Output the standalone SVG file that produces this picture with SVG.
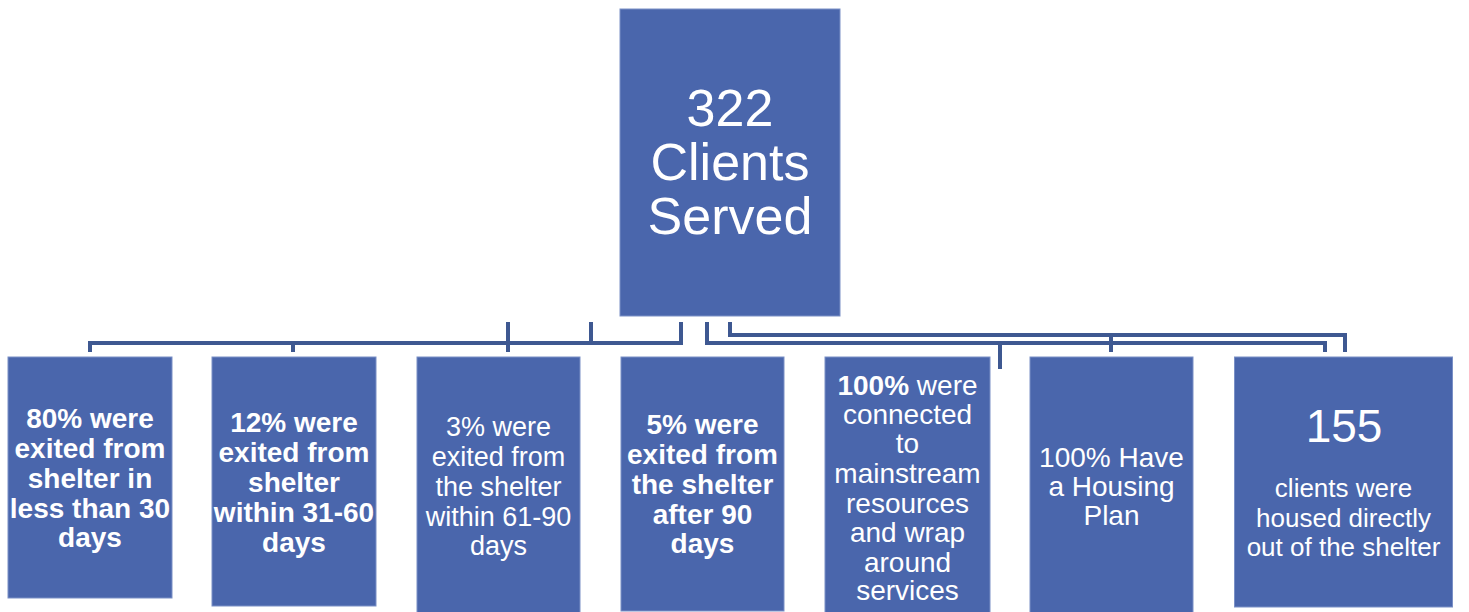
<svg xmlns="http://www.w3.org/2000/svg" width="1469" height="612" viewBox="0 0 1469 612">
<style>
.box{fill:#4A66AC;stroke:#7A90C6;stroke-width:1}
.t{font-family:"Liberation Sans",Arial,sans-serif;fill:#FFFFFF;text-anchor:middle}
.b{font-weight:bold;font-size:28px}
.r{font-size:28px}
.c{fill:none;stroke:#3E5891;stroke-width:4;stroke-linejoin:miter}
</style>
<rect width="1469" height="612" fill="#FFFFFF"/>
<g id="connectors">
<path class="c" d="M681,322 V343 H90 V352"/>
<path class="c" d="M293,343 V352"/>
<path class="c" d="M508,322 V352"/>
<path class="c" d="M591,322 V343"/>
<path class="c" d="M707,322 V343 H1325 V352"/>
<path class="c" d="M1000,343 V369"/>
<path class="c" d="M730,322 V335 H1345 V352"/>
<path class="c" d="M1111,335 V352"/>
</g>
<g id="root">
<rect class="box" x="620" y="9" width="220" height="307"/>
<text class="t" font-size="52" x="730"><tspan x="730" y="126">322</tspan><tspan x="730" y="180">Clients</tspan><tspan x="730" y="234">Served</tspan></text>
</g>
<g id="n1">
<rect class="box" x="8" y="357" width="164" height="241"/>
<text class="t b"><tspan x="90" y="428">80% were</tspan><tspan x="90" y="458">exited from</tspan><tspan x="90" y="488">shelter in</tspan><tspan x="90" y="518">less than 30</tspan><tspan x="90" y="547">days</tspan></text>
</g>
<g id="n2">
<rect class="box" x="212" y="357" width="164" height="249"/>
<text class="t b"><tspan x="294" y="432">12% were</tspan><tspan x="294" y="462">exited from</tspan><tspan x="294" y="492">shelter</tspan><tspan x="294" y="522">within 31-60</tspan><tspan x="294" y="552">days</tspan></text>
</g>
<g id="n3">
<rect class="box" x="417" y="357" width="163" height="265"/>
<text class="t" font-size="27"><tspan x="498.5" y="436">3% were</tspan><tspan x="498.5" y="466">exited from</tspan><tspan x="498.5" y="496">the shelter</tspan><tspan x="498.5" y="526">within 61-90</tspan><tspan x="498.5" y="555">days</tspan></text>
</g>
<g id="n4">
<rect class="box" x="621" y="357" width="163" height="254"/>
<text class="t b"><tspan x="702.5" y="434">5% were</tspan><tspan x="702.5" y="464">exited from</tspan><tspan x="702.5" y="494">the shelter</tspan><tspan x="702.5" y="524">after 90</tspan><tspan x="702.5" y="553">days</tspan></text>
</g>
<g id="n5">
<rect class="box" x="825" y="357" width="165" height="265"/>
<text class="t r"><tspan x="907.5" y="395"><tspan font-weight="bold">100%</tspan> were</tspan><tspan x="907.5" y="424">connected</tspan><tspan x="907.5" y="453">to</tspan><tspan x="907.5" y="483">mainstream</tspan><tspan x="907.5" y="513">resources</tspan><tspan x="907.5" y="542">and wrap</tspan><tspan x="907.5" y="572">around</tspan><tspan x="907.5" y="600">services</tspan></text>
</g>
<g id="n6">
<rect class="box" x="1030" y="357" width="163" height="265"/>
<text class="t r"><tspan x="1111.5" y="467">100% Have</tspan><tspan x="1111.5" y="496">a Housing</tspan><tspan x="1111.5" y="525">Plan</tspan></text>
</g>
<g id="n7">
<rect class="box" x="1234.5" y="357" width="218" height="250"/>
<text class="t" font-size="46" x="1344" y="442">155</text>
<text class="t" font-size="26"><tspan x="1343.5" y="497">clients were</tspan><tspan x="1343.5" y="527">housed directly</tspan><tspan x="1343.5" y="556">out of the shelter</tspan></text>
</g>
</svg>
